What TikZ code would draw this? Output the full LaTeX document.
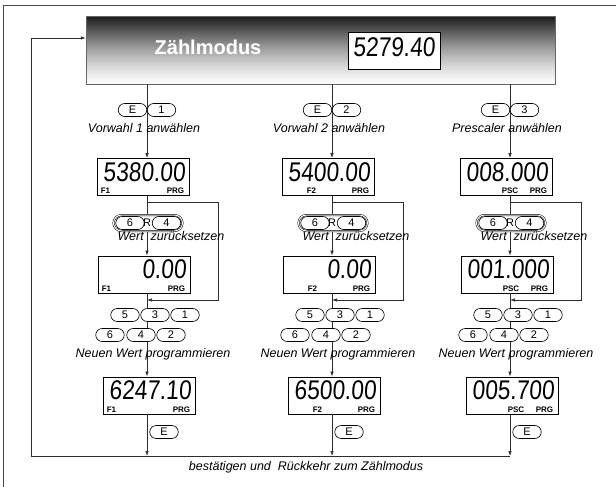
\documentclass[tikz,border=0pt]{standalone}
\usepackage{fontspec}
\setmainfont{Liberation Sans}
\newfontfamily\lcdfont[FakeStretch=0.84,FakeSlant=0.07]{Liberation Sans}
\usepackage{tikz}
\usetikzlibrary{
    positioning,
    arrows.meta,
    calc
}
\definecolor{lineGray}{RGB}{45,45,45}
\definecolor{frameGray}{RGB}{70,70,70}
\tikzset{
    % Kopfbalken (Zählmodus), Verlauf wird streifenweise gefüllt
    banner/.style={
        rectangle,
        draw=black!60,
        minimum width=469pt,
        minimum height=68pt,
        inner sep=0pt
    },
    % LCD-Anzeige
    lcd/.style={
        rectangle,
        draw=black,
        line width=0.8pt,
        fill=white,
        minimum width=92pt,
        minimum height=37pt,
        inner sep=0pt
    },
    % Ziffern in der Anzeige
    digits/.style={
        font=\lcdfont\fontsize{27}{27}\selectfont,
        inner sep=0pt
    },
    % kleine Kennung (F1, PRG ...)
    tag/.style={
        font=\fontsize{8}{8}\selectfont\bfseries,
        inner sep=0pt
    },
    % Taste
    key/.style={
        rectangle,
        rounded corners=6.5pt,
        draw=black,
        fill=white,
        line width=0.6pt,
        minimum width=28.5pt,
        minimum height=13pt,
        inner sep=0pt,
        font=\fontsize{11}{11}\selectfont
    },
    % Tastenkombination (doppelt umrandet)
    combo/.style={
        rectangle,
        rounded corners=8pt,
        draw=black,
        double,
        double distance=1pt,
        line width=0.5pt,
        fill=white,
        minimum width=69pt,
        minimum height=16pt,
        inner sep=0pt
    },
    % Beschriftung
    hint/.style={
        font=\fontsize{12.5}{14}\selectfont\itshape,
        inner sep=0pt
    },
    % Pfeil
    flow/.style={
        -{Latex[length=5pt, width=3.5pt]},
        draw=lineGray,
        line width=0.7pt
    }
}

\begin{document}
\begin{tikzpicture}[x=1pt, y=-1pt]
    \useasboundingbox (0,0) rectangle (616,487);

    % Rahmen
    \draw[frameGray, line width=0.8pt] (616,5) -- (3,5) -- (3,487);

    % Verlauf des Kopfbalkens (oben dunkel, unten hell)
    \foreach \i in {0,...,67}{
        \pgfmathsetmacro{\shadeval}{2+88*(1-\i/67)^1.35}
        \fill[black!\shadeval] (86,16+\i) rectangle (555,17.6+\i);
    }

    % Kopfbalken mit Anzeige
    \node[banner] (mode) at (320.5,50) {};
    \node[font=\fontsize{20}{20}\selectfont\bfseries, text=white] (title) at (208,47) {Zählmodus};
    \node[lcd] (modelcd) at (394,50.5) {};
    \node[digits] (modeval) at ([yshift=3pt]modelcd.center) {5279.40};

    % Rücksprung zum Zählmodus
    \coordinate (ret) at (31,456);
    \coordinate (col3) at (510,0);
    \draw[flow] (col3 |- ret) -- (ret) |- ([yshift=12pt]mode.west);

    % drei Spalten: Vorwahl 1, Vorwahl 2, Prescaler
    \foreach \c/\x/\va/\vb/\vc/\tg/\tx/\lbl in {
        1/147/5380.00/0.00/6247.10/F1/4/Vorwahl 1 anwählen,
        2/332/5400.00/0.00/6500.00/F2/25/Vorwahl 2 anwählen,
        3/510/008.000/001.000/005.700/PSC/42/Prescaler anwählen}{

        \coordinate (col\c) at (\x,0);

        % Anzeigen
        \node[lcd] (dispA\c) at (\x-4,177) {};
        \node[lcd] (dispB\c) at (\x-3,274.5) {};
        \node[lcd] (dispC\c) at (\x+2,395.5) {};
        \node[digits, anchor=north east] (valA\c) at ([xshift=-4pt, yshift=-4pt]dispA\c.north east) {\va};
        \node[digits, anchor=north east] (valB\c) at ([xshift=-4pt, yshift=-4pt]dispB\c.north east) {\vb};
        \node[digits, anchor=north east] (valC\c) at ([xshift=-4pt, yshift=-4pt]dispC\c.north east) {\vc};
        \node[tag, anchor=south west] (tagA\c) at ([xshift=\tx, yshift=2pt]dispA\c.south west) {\tg};
        \node[tag, anchor=south west] (tagB\c) at ([xshift=\tx, yshift=2pt]dispB\c.south west) {\tg};
        \node[tag, anchor=south west] (tagC\c) at ([xshift=\tx, yshift=2pt]dispC\c.south west) {\tg};
        \node[tag, anchor=south east] (prgA\c) at ([xshift=-5pt, yshift=2pt]dispA\c.south east) {PRG};
        \node[tag, anchor=south east] (prgB\c) at ([xshift=-5pt, yshift=2pt]dispB\c.south east) {PRG};
        \node[tag, anchor=south east] (prgC\c) at ([xshift=-5pt, yshift=2pt]dispC\c.south east) {PRG};

        % Verbindungen
        \draw[flow] (mode.south -| col\c) -- (dispA\c.north -| col\c);
        \draw[flow] (dispA\c.south -| col\c) -- (dispB\c.north -| col\c);
        \draw[flow] (dispB\c.south -| col\c) -- (dispC\c.north -| col\c);
        \draw[flow] (dispC\c.south -| col\c) -- (col\c |- ret);
        % Umgehung ohne Zurücksetzen
        \coordinate (split\c) at (\x,202);
        \coordinate (join\c) at (\x,300);
        \draw[flow] (split\c) -- ++(71,0) |- (join\c);

        % Auswahl
        \node[key] (selE\c) at (\x-14.5,110) {E};
        \node[key] (selN\c) at (\x+14.5,110) {\c};
        \node[hint] (selTxt\c) at (\x-3,128) {\lbl};

        % Zurücksetzen
        \node[combo] (rst\c) at (\x+1,223) {};
        \node[key] (rstA\c) at (\x-17,223) {6};
        \node[font=\fontsize{11}{11}\selectfont, inner sep=0pt] (rstR\c) at (\x,223) {R};
        \node[key] (rstB\c) at (\x+19.5,223) {4};
        \node[hint] (rstTxt\c) at (\x+24,236) {Wert\ \ zurücksetzen};

        % Programmieren
        \node[key] (k5\c) at (\x-22,315) {5};
        \node[key] (k3\c) at (\x+8,315) {3};
        \node[key] (k1\c) at (\x+38,315) {1};
        \node[key] (k6\c) at (\x-37,335) {6};
        \node[key] (k4\c) at (\x-6,335) {4};
        \node[key] (k2\c) at (\x+24,335) {2};
        \node[hint] (prgTxt\c) at (\x+6,354) {Neuen Wert programmieren};

        % Bestätigen
        \node[key] (ok\c) at (\x+17,432) {E};
    }

    \node[hint] (back) at (306,467) {bestätigen und\ \ Rückkehr zum Zählmodus};

\end{tikzpicture}
\end{document}
